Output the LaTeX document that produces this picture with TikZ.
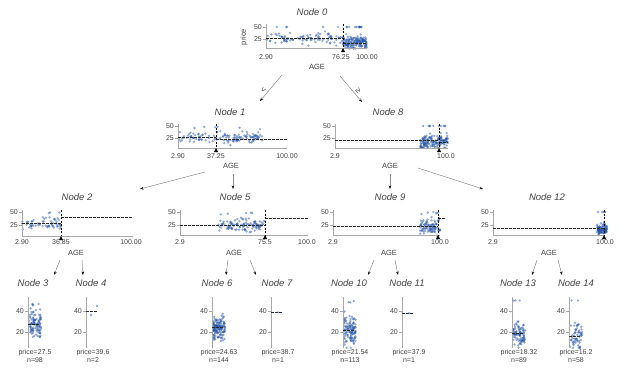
\documentclass[tikz,border=0pt]{standalone}
\usepackage{fontspec}
\setmainfont{Liberation Sans}
\usetikzlibrary{arrows.meta}
\definecolor{txt}{HTML}{444444}
\definecolor{axc}{HTML}{A8A8A8}
\definecolor{dotc}{RGB}{38,86,170}
\definecolor{meanc}{HTML}{2A2A2A}
\definecolor{edgec}{HTML}{8C8C8C}

% scatter: x from, x to, y of 50, px per unit, count, mean, spread
\newcommand{\scatterpts}[7]{%
  \foreach \i in {1,...,#5}{%
    \pgfmathsetmacro{\px}{#1+(#2-#1)*rnd}%
    \pgfmathsetmacro{\pv}{max(5,min(50,#6+#7*2*(rnd+rnd+rnd-1.5)))}%
    \fill[dot] (\px,{#3+(50-\pv)*#4}) circle (1.3pt);
  }}

\begin{document}
\begin{tikzpicture}[x=1pt, y=-1pt,
    title/.style={font=\fontsize{9.5}{11}\selectfont\itshape, text=txt, inner sep=0pt},
    tick/.style={font=\fontsize{7}{8}\selectfont, text=txt, inner sep=0pt},
    feat/.style={font=\fontsize{7.5}{9}\selectfont, text=txt, inner sep=0pt},
    spine/.style={draw=axc, line width=0.6pt},
    mean/.style={draw=meanc, dash pattern=on 2.5pt off 1.5pt, line width=0.8pt},
    split/.style={draw=black, dash pattern=on 2pt off 1.5pt, line width=0.7pt},
    edge/.style={draw=edgec, line width=0.5pt, -{Stealth[length=3.5pt,width=2.6pt,color=black]}},
    dot/.style={fill=dotc, fill opacity=0.5}]
  \pgfmathsetseed{17}
  \fill[white] (0,0) rectangle (624,372);
  \useasboundingbox (0,0) rectangle (624,372);

  % Node 0
  \node[title] (t0) at (312,12) {Node 0};
  \scatterpts{266}{343}{27}{0.48}{90}{26}{6}
  \scatterpts{266}{343}{27}{0.48}{5}{50}{0}
  \scatterpts{343}{367}{27}{0.48}{150}{17}{6.5}
  \scatterpts{343}{367}{27}{0.48}{12}{50}{0}
  \draw[spine] (266,24) -- (266,48) -- (367,48);
  \draw[spine] (263,27) -- (266,27) (263,39) -- (266,39);
  \draw[mean] (266,38) -- (343,38);
  \draw[mean] (343,43) -- (367,43);
  \draw[split] (343,24) -- (343,48);
  \fill (343,48) -- (341,52) -- (345,52) -- cycle;
  \node[tick, anchor=east] (y0a) at (262,27) {50};
  \node[tick, anchor=east] (y0b) at (262,39) {25};
  \node[feat, rotate=90] (p0) at (244,37) {price};
  \node[tick] (x0a) at (266,57) {2.90};
  \node[tick] (x0b) at (341,57) {76.25};
  \node[tick] (x0c) at (367,57) {100.00};
  \node[feat] (f0) at (317,67) {AGE};

  % Node 1
  \node[title] (t1) at (230,112) {Node 1};
  \scatterpts{178}{262}{126}{0.48}{130}{25.5}{6}
  \scatterpts{178}{262}{126}{0.48}{6}{48}{2}
  \draw[spine] (178,124) -- (178,148) -- (287,148);
  \draw[spine] (175,126) -- (178,126) (175,138) -- (178,138);
  \draw[mean] (178,137) -- (216,137);
  \draw[mean] (216,139) -- (287,139);
  \draw[split] (216,124) -- (216,148);
  \fill (216,148) -- (214,152) -- (218,152) -- cycle;
  \node[tick, anchor=east] (y1a) at (174,126) {50};
  \node[tick, anchor=east] (y1b) at (174,138) {25};
  \node[tick] (x1a) at (178,156) {2.90};
  \node[tick] (x1b) at (216,156) {37.25};
  \node[tick] (x1c) at (287,156) {100.00};
  \node[feat] (f1) at (231,166) {AGE};

  % Node 8
  \node[title] (t8) at (388,112) {Node 8};
  \scatterpts{420}{448}{126}{0.48}{150}{17}{7}
  \scatterpts{420}{448}{126}{0.48}{10}{50}{0}
  \draw[spine] (335,124) -- (335,148) -- (448,148);
  \draw[spine] (332,126) -- (335,126) (332,138) -- (335,138);
  \draw[mean] (335,140) -- (439,140);
  \draw[mean] (439,142) -- (448,142);
  \draw[split] (439,124) -- (439,148);
  \fill (439,148) -- (437,152) -- (441,152) -- cycle;
  \node[tick, anchor=east] (y8a) at (331,126) {50};
  \node[tick, anchor=east] (y8b) at (331,138) {25};
  \node[tick] (x8a) at (335,156) {2.9};
  \node[tick] (x8b) at (446,156) {100.0};
  \node[feat] (f8) at (390,166) {AGE};

  % Node 2
  \node[title] (t2) at (77,197) {Node 2};
  \scatterpts{22}{61}{212}{0.52}{60}{27}{6}
  \scatterpts{22}{61}{212}{0.52}{4}{47}{3}
  \draw[spine] (22,210) -- (22,236) -- (133,236);
  \draw[spine] (19,212) -- (22,212) (19,225) -- (22,225);
  \draw[mean] (22,223) -- (61,223);
  \draw[mean] (61,217) -- (133,217);
  \draw[split] (61,210) -- (61,236);
  \fill (61,236) -- (59,240) -- (63,240) -- cycle;
  \node[tick, anchor=east] (y2a) at (18,212) {50};
  \node[tick, anchor=east] (y2b) at (18,225) {25};
  \node[tick] (x2a) at (22,242) {2.90};
  \node[tick] (x2b) at (61,242) {36.85};
  \node[tick] (x2c) at (131,242) {100.00};
  \node[feat] (f2) at (76,253) {AGE};

  % Node 5
  \node[title] (t5) at (235,197) {Node 5};
  \scatterpts{217}{265}{212}{0.52}{110}{24.5}{5.5}
  \scatterpts{217}{265}{212}{0.52}{5}{46}{3}
  \draw[spine] (180,210) -- (180,235) -- (308,235);
  \draw[spine] (177,212) -- (180,212) (177,225) -- (180,225);
  \draw[mean] (180,225) -- (265,225);
  \draw[mean] (265,218) -- (308,218);
  \draw[split] (265,210) -- (265,235);
  \fill (265,235) -- (263,239) -- (267,239) -- cycle;
  \node[tick, anchor=east] (y5a) at (176,212) {50};
  \node[tick, anchor=east] (y5b) at (176,225) {25};
  \node[tick] (x5a) at (180,242) {2.9};
  \node[tick] (x5b) at (265,242) {75.5};
  \node[tick] (x5c) at (307,242) {100.0};
  \node[feat] (f5) at (234,253) {AGE};

  % Node 9
  \node[title] (t9) at (390,197) {Node 9};
  \scatterpts{420}{440}{212}{0.52}{90}{22}{7}
  \scatterpts{420}{440}{212}{0.52}{6}{48}{2}
  \draw[spine] (333,210) -- (333,235) -- (440,235);
  \draw[spine] (330,212) -- (333,212) (330,225) -- (333,225);
  \draw[mean] (333,226) -- (438,226);
  \draw[mean] (438,218) -- (446,218);
  \draw[split] (438,210) -- (438,235);
  \fill (438,235) -- (436,239) -- (440,239) -- cycle;
  \node[tick, anchor=east] (y9a) at (329,212) {50};
  \node[tick, anchor=east] (y9b) at (329,225) {25};
  \node[tick] (x9a) at (333,242) {2.9};
  \node[tick] (x9b) at (440,242) {100.0};
  \node[feat] (f9) at (389,253) {AGE};

  % Node 12
  \node[title] (t12) at (547,197) {Node 12};
  \scatterpts{597}{607}{212}{0.52}{100}{17}{5}
  \scatterpts{597}{607}{212}{0.52}{5}{50}{0}
  \draw[spine] (493,210) -- (493,235) -- (605,235);
  \draw[spine] (490,212) -- (493,212) (490,225) -- (493,225);
  \draw[mean] (493,228) -- (604,228);
  \draw[split] (604,210) -- (604,235);
  \fill (604,235) -- (602,239) -- (606,239) -- cycle;
  \node[tick, anchor=east] (y12a) at (489,212) {50};
  \node[tick, anchor=east] (y12b) at (489,225) {25};
  \node[tick] (x12a) at (493,242) {2.9};
  \node[tick] (x12b) at (605,242) {100.0};
  \node[feat] (f12) at (549,253) {AGE};

  % Leaves
  \foreach \nm/\lx/\sx/\mv/\pr/\nn/\cnt/\sd in {
      3/33/28/27.5/27.5/98/98/6,
      4/91/86/39.6/39.6/2/0/0,
      6/217/212/24.63/24.63/144/144/5.5,
      7/277/271/38.7/38.7/1/0/0,
      10/349/343/21.54/21.54/113/113/6.5,
      11/407/402/37.9/37.9/1/0/0,
      13/518/512/18.32/18.32/89/89/5.5,
      14/576/569/16.2/16.2/58/58/5.5} {
    \node[title] (t\nm) at (\lx,283) {Node \nm};
    \ifnum\cnt>0
      \scatterpts{\sx+1}{\sx+11}{300.5}{1.05}{\cnt}{\mv}{\sd}
    \fi
    \draw[spine] (\sx,297) -- (\sx,348);
    \draw[spine] (\sx-3,311) -- (\sx,311) (\sx-3,332) -- (\sx,332);
    \draw[mean] (\sx,{300.5+(50-\mv)*1.05}) -- ++(12,0);
    \node[tick, anchor=east] (y\nm a) at (\sx-4,311) {40};
    \node[tick, anchor=east] (y\nm b) at (\sx-4,332) {20};
    \node[tick] (pr\nm) at (\sx+7,353) {price=\pr};
    \node[tick] (cn\nm) at (\sx+7,360.5) {n=\nn};
  }
  % few leaf points
  \fill[dot] (97,306) circle (1.3pt);
  \fill[dot] (91,315) circle (1.3pt);
  \fill[dot] (278,312.4) circle (1.3pt);
  \fill[dot] (409,313.2) circle (1.3pt);
  \scatterpts{29}{40}{300.5}{1.05}{4}{47}{2}
  \scatterpts{344}{354}{300.5}{1.05}{3}{48}{1}
  \scatterpts{513}{523}{300.5}{1.05}{3}{50}{0}
  \scatterpts{570}{580}{300.5}{1.05}{2}{50}{0}

  % Edges
  \coordinate (a0l) at (282,75);  \coordinate (b0l) at (260,101);
  \coordinate (a0r) at (340,76);  \coordinate (b0r) at (362,102);
  \draw[edge] (a0l) -- (b0l) node[midway, above left=-1pt, font=\fontsize{8}{9}\selectfont, text=txt, rotate=50] (lt) {<};
  \draw[edge] (a0r) -- (b0r) node[midway, above right=-1pt, font=\fontsize{8}{9}\selectfont, text=txt, rotate=-50] (ge) {≥};
  \coordinate (a1l) at (205,172); \coordinate (b1l) at (140,189);
  \coordinate (a1r) at (233,174); \coordinate (b1r) at (233,189);
  \coordinate (a8l) at (390,174); \coordinate (b8l) at (390,189);
  \coordinate (a8r) at (418,168); \coordinate (b8r) at (483,189);
  \draw[edge] (a1l) -- (b1l);
  \draw[edge] (a1r) -- (b1r);
  \draw[edge] (a8l) -- (b8l);
  \draw[edge] (a8r) -- (b8r);
  \foreach \nm/\sx/\ex/\sy/\ey in {2l/60/54/260/275, 2r/82/83/260/275,
      5l/228/226/260/275, 5r/250/256/260/275,
      9l/374/368/260/275, 9r/395/398/260/275,
      12l/537/532/260/275, 12r/558/562/260/275} {
    \coordinate (a\nm) at (\sx,\sy);
    \coordinate (b\nm) at (\ex,\ey);
    \draw[edge] (a\nm) -- (b\nm);
  }
\end{tikzpicture}
\end{document}
